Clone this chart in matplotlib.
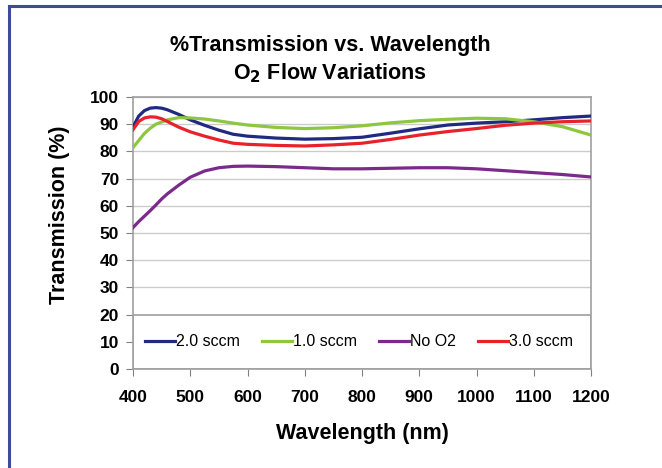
import matplotlib
matplotlib.use("Agg")
import matplotlib.pyplot as plt
from matplotlib.lines import Line2D
from matplotlib.patches import Rectangle

plt.rcParams['font.family'] = ['Liberation Sans', 'DejaVu Sans']

wavelength = [400, 410, 420, 430, 440, 450, 460, 480, 500, 525, 550, 575, 600,
              650, 700, 750, 800, 850, 900, 950, 1000, 1050, 1100, 1150, 1200]
sccm_2_0 = [89, 93, 95, 95.9, 96.1, 95.9, 95.3, 93.6, 91.6, 89.6, 87.8, 86.3, 85.6,
            84.9, 84.5, 84.7, 85.2, 86.7, 88.3, 89.7, 90.4, 90.9, 91.6, 92.4, 93]
sccm_1_0 = [81.4, 84, 86.6, 88.5, 90, 90.8, 91.6, 92.4, 92.3, 91.9, 91.2, 90.4, 89.7,
            88.8, 88.4, 88.7, 89.4, 90.5, 91.3, 91.8, 92.2, 92, 90.9, 89.1, 86]
no_o2 = [52, 54.2, 56.2, 58.2, 60.3, 62.5, 64.4, 67.6, 70.5, 72.8, 74, 74.5, 74.6,
         74.4, 74, 73.6, 73.6, 73.8, 74, 74, 73.6, 72.9, 72.2, 71.5, 70.6]
sccm_3_0 = [88, 91, 92.3, 92.7, 92.6, 92, 91, 88.9, 87.2, 85.6, 84.2, 83, 82.6,
            82.2, 82, 82.4, 83, 84.4, 86, 87.3, 88.4, 89.6, 90.4, 90.9, 91.2]

series = [("2.0 sccm", sccm_2_0, "#1f2a80"),
          ("1.0 sccm", sccm_1_0, "#8dc63f"),
          ("No O2", no_o2, "#7b2a8c"),
          ("3.0 sccm", sccm_3_0, "#e8222a")]

x_ticks = [400, 500, 600, 700, 800, 900, 1000, 1100, 1200]
y_ticks = [0, 10, 20, 30, 40, 50, 60, 70, 80, 90, 100]

W, H = 662, 468
fig = plt.figure(figsize=(W/100, H/100), dpi=100)
ax = fig.add_axes([133/W, 1-369/H, (591-133)/W, (369-97)/H])

for label, vals, color in series:
    ax.plot(wavelength, vals, color=color, lw=2.3, label=label, zorder=3)

ax.set_xlim(400, 1200)
ax.set_ylim(0, 100)
ax.set_xticks(x_ticks)
ax.set_yticks(y_ticks)
ax.yaxis.grid(True, color="#cccccc", lw=1)
ax.set_axisbelow(True)
for s in ax.spines.values():
    s.set_color("#a0a0a0")
    s.set_linewidth(1.2)
ax.tick_params(axis='both', direction='out', length=5, color="#808080",
               labelsize=12.5)
ax.tick_params(axis='y', pad=5)
ax.tick_params(axis='x', pad=10)
for lab in ax.get_xticklabels() + ax.get_yticklabels():
    lab.set_fontweight('bold')

# legend box covering the 0-20 band
ax.add_patch(Rectangle((400, 0), 800, 20, facecolor='white', edgecolor='#a0a0a0',
                       lw=1.2, zorder=2.5))
leg = ax.legend(loc='center', bbox_to_anchor=(0.016, 0, 0.955, 0.2), mode='expand',
                ncol=4, fontsize=11.5, frameon=False,
                handlelength=1.9, handletextpad=0.05, borderaxespad=0,
                borderpad=0.3)
leg.set_zorder(4)

fig.text(362/W, 1-433/H, "Wavelength (nm)", ha='center', va='center',
         fontsize=15.5, fontweight='bold')
fig.text(60/W, 1-215/H, "Transmission (%)", ha='center', va='center',
         rotation=90, fontsize=15.5, fontweight='bold')

fig.text(330/W, 1-45/H, "%Transmission vs. Wavelength", ha='center', va='center',
         fontsize=15.5, fontweight='bold')
fig.text(330/W, 1-73/H, "O$_\\mathbf{2}$ Flow Variations", ha='center', va='center',
         fontsize=15.5, fontweight='bold')

fig.add_artist(Line2D([9/W, 9/W], [0, 1-6/H], color="#3e4a9a", lw=2.2,
                      transform=fig.transFigure))
fig.add_artist(Line2D([9/W, 1], [1-6/H, 1-6/H], color="#3e4a9a", lw=2.2,
                      transform=fig.transFigure))

fig.savefig("out.png", dpi=100)
